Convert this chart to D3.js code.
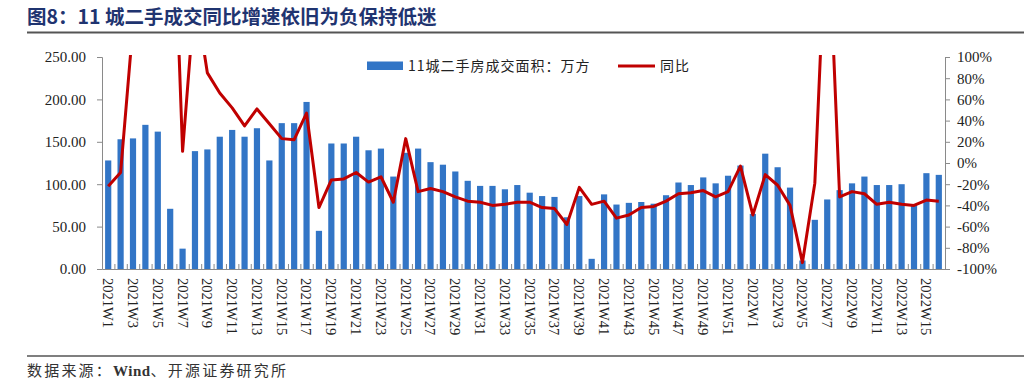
<!DOCTYPE html>
<html><head><meta charset="utf-8">
<script src="https://cdn.jsdelivr.net/npm/d3@7"></script>
<style>body{margin:0;background:#fff;} svg{display:block}</style>
</head><body>
<svg id="c" width="1024" height="387"></svg>
<script>
const categories = ["2021W1","2021W2","2021W3","2021W4","2021W5","2021W6","2021W7","2021W8","2021W9","2021W10",
"2021W11","2021W12","2021W13","2021W14","2021W15","2021W16","2021W17","2021W18","2021W19","2021W20",
"2021W21","2021W22","2021W23","2021W24","2021W25","2021W26","2021W27","2021W28","2021W29","2021W30",
"2021W31","2021W32","2021W33","2021W34","2021W35","2021W36","2021W37","2021W38","2021W39","2021W40",
"2021W41","2021W42","2021W43","2021W44","2021W45","2021W46","2021W47","2021W48","2021W49","2021W50",
"2021W51","2021W52","2022W1","2022W2","2022W3","2022W4","2022W5","2022W6","2022W7","2022W8",
"2022W9","2022W10","2022W11","2022W12","2022W13","2022W14","2022W15","2022W16"];
const areaValues = [128,153,154,170,162,71,24,139,141,156,
164,156,166,128,172,172,197,45,148,148,
156,140,142,109,137,142,126,123,115,104,
98,98,94,99,90,86,85,61,86,12,
88,76,78,79,77,87,102,99,108,101,
110,122,65,136,120,96,10,58,82,93,
101,109,99,99,100,76,113,111];
const yoyValues = [-22,-9,130,250,300,336,11,160,85,66,
52,35,51,37,23,22,47,-42,-16,-15,
-9,-18,-13,-37,23,-27,-24,-27,-32,-36,
-37,-40,-39,-37,-37,-42,-43,-58,-23,-39,
-36,-52,-49,-42,-41,-36,-29,-28,-26,-32,
-27,-3,-49,-11,-21,-40,-94,-19,250,-32,
-27,-29,-39,-37,-39,-40,-35,-36];
const leftTicks = [0,50,100,150,200,250];
const rightTicks = [-100,-80,-60,-40,-20,0,20,40,60,80,100];
const titleText = "图8：11 城二手成交同比增速依旧为负保持低迷";
const seriesNames = ["11城二手房成交面积：万方","同比"];

const svg = d3.select("#c");
const L = 102, R = 945, T = 57, B = 269;
const serif = "'Liberation Serif','Times New Roman',serif";
const cjk = "'Noto Sans CJK SC',sans-serif";

const x = d3.scaleBand().domain(categories).range([L, R]).paddingInner(0.5).paddingOuter(0.25);
const xi = d3.scaleLinear().domain([0, categories.length]).range([L, R]);
const yL = d3.scaleLinear().domain([0, 250]).range([B, T]);
const yR = d3.scaleLinear().domain([-100, 100]).range([B, T]);

// title
svg.append("text").attr("x", 27).attr("y", 24)
  .attr("font-family", cjk).attr("font-weight", "bold").attr("font-size", 19.5)
  .attr("fill", "#1f3470").text(titleText);
svg.append("line").attr("x1", 27).attr("x2", 1024).attr("y1", 32.5).attr("y2", 32.5)
  .attr("stroke", "#555").attr("stroke-width", 2);

// bars
svg.append("g").selectAll("rect").data(areaValues).join("rect")
  .attr("x", (d, i) => x(categories[i]))
  .attr("width", x.bandwidth())
  .attr("y", d => yL(d))
  .attr("height", d => yL(0) - yL(d))
  .attr("fill", "#3275c6");

// axes
const axL = svg.append("g").attr("transform", `translate(${L},0)`)
  .call(d3.axisLeft(yL).tickValues(leftTicks).tickFormat(d3.format(".2f")).tickSize(5).tickPadding(11));
const axR = svg.append("g").attr("transform", `translate(${R},0)`)
  .call(d3.axisRight(yR).tickValues(rightTicks).tickFormat(d => d + "%").tickSize(5).tickPadding(7));
const axB = svg.append("g").attr("transform", `translate(0,${B})`)
  .call(d3.axisBottom(xi).tickValues(d3.range(0, categories.length + 1)).tickFormat("").tickSizeInner(-5).tickSizeOuter(0));
const axBL = svg.append("g").attr("transform", `translate(0,${B})`)
  .call(d3.axisBottom(x).tickValues(categories.filter((c, i) => i % 2 === 0)).tickSize(0));
axBL.select(".domain").remove();
axBL.selectAll("text").attr("transform", "rotate(90)").attr("text-anchor", "start")
  .attr("x", 9).attr("y", 0).attr("dy", "0.35em").attr("dx", 0);

[axL, axR, axB].forEach(a => {
  a.selectAll(".domain").attr("stroke", "#8a8a8a");
  a.selectAll(".tick line").attr("stroke", "#8a8a8a");
});
[axL, axR, axBL].forEach(a => {
  a.selectAll("text").attr("font-family", serif).attr("font-size", 15).attr("fill", "#222");
});
axBL.selectAll("text").attr("font-size", 14.5);

// line
svg.append("clipPath").attr("id", "clip").append("rect")
  .attr("x", L).attr("y", T - 2).attr("width", R - L).attr("height", B - T + 4);
const line = d3.line().x((d, i) => x(categories[i]) + x.bandwidth() / 2).y(d => yR(d));
svg.append("path").datum(yoyValues).attr("d", line).attr("clip-path", "url(#clip)")
  .attr("fill", "none").attr("stroke", "#c00000").attr("stroke-width", 3).attr("stroke-linejoin", "round");

// legend
svg.append("rect").attr("x", 367).attr("y", 61.5).attr("width", 36).attr("height", 8.5).attr("fill", "#3275c6");
svg.append("text").attr("x", 408).attr("y", 71).attr("font-family", cjk).attr("font-size", 14)
  .attr("letter-spacing", 1).attr("fill", "#222").text(seriesNames[0]);
svg.append("line").attr("x1", 618).attr("x2", 655).attr("y1", 66).attr("y2", 66)
  .attr("stroke", "#c00000").attr("stroke-width", 3);
svg.append("text").attr("x", 660).attr("y", 71).attr("font-family", cjk).attr("font-size", 14)
  .attr("letter-spacing", 1).attr("fill", "#222").text(seriesNames[1]);

// footer
svg.append("line").attr("x1", 27).attr("x2", 1024).attr("y1", 356).attr("y2", 356)
  .attr("stroke", "#555").attr("stroke-width", 1.5);
const ft = svg.append("text").attr("x", 27).attr("y", 376).attr("font-family", cjk).attr("font-size", 15)
  .attr("fill", "#333").attr("letter-spacing", 2.2);
ft.append("tspan").text("数据来源：");
ft.append("tspan").attr("font-family", serif).attr("font-weight", "bold").attr("letter-spacing", 0.5).text("Wind");
ft.append("tspan").text("、开源证券研究所");
</script>
</body></html>
